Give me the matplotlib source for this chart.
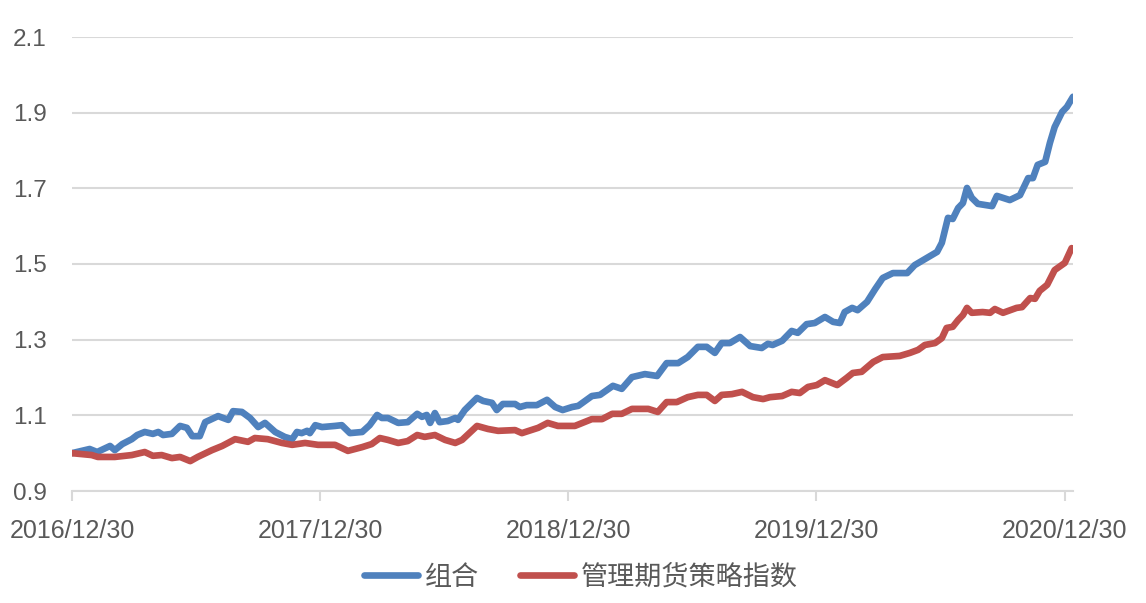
import numpy as np
import pandas as pd
import matplotlib
matplotlib.use("Agg")
import matplotlib.pyplot as plt
import matplotlib.dates as mdates

# 기준일 2016/12/30 부터의 경과일수 / 净值
start = pd.Timestamp("2016-12-30")

# 组合
blue_days = [0, 26, 37, 56, 63, 74, 88, 96, 107, 119, 127, 134, 147, 159, 169, 177, 188,
             196, 215, 230, 237, 250, 262, 274, 284, 299, 313, 324, 331, 338, 346, 350,
             358, 368, 387, 397, 409, 427, 438, 449, 456, 465, 480, 494, 508, 515, 522,
             527, 534, 541, 553, 564, 568, 578, 596, 605, 618, 625, 634, 652, 659, 669,
             684, 699, 711, 722, 736, 745, 765, 777, 796, 809, 824, 843, 861, 875, 892,
             906, 921, 934, 946, 956, 968, 983, 998, 1015, 1024, 1031, 1045, 1059, 1068,
             1081, 1093, 1108, 1120, 1130, 1137, 1148, 1156, 1170, 1182, 1193, 1208,
             1229, 1240, 1258, 1273, 1280, 1289, 1296, 1304, 1311, 1317, 1324, 1333,
             1354, 1361, 1380, 1395, 1407, 1414, 1421, 1432, 1439, 1446, 1457, 1464, 1473]
blue_vals = [1.000, 1.011, 1.003, 1.019, 1.008, 1.024, 1.037, 1.048, 1.056, 1.051, 1.056,
             1.048, 1.051, 1.072, 1.067, 1.045, 1.045, 1.082, 1.098, 1.088, 1.111, 1.109,
             1.093, 1.069, 1.080, 1.056, 1.043, 1.037, 1.056, 1.053, 1.059, 1.053, 1.074,
             1.069, 1.072, 1.074, 1.053, 1.056, 1.074, 1.101, 1.093, 1.093, 1.080, 1.082,
             1.104, 1.096, 1.101, 1.080, 1.106, 1.082, 1.085, 1.093, 1.088, 1.114, 1.146,
             1.138, 1.133, 1.114, 1.130, 1.130, 1.122, 1.127, 1.127, 1.141, 1.122, 1.114,
             1.122, 1.125, 1.151, 1.154, 1.178, 1.170, 1.201, 1.209, 1.204, 1.238, 1.238,
             1.254, 1.281, 1.281, 1.265, 1.291, 1.291, 1.307, 1.283, 1.278, 1.289, 1.286,
             1.297, 1.323, 1.318, 1.341, 1.344, 1.360, 1.347, 1.344, 1.373, 1.384, 1.378,
             1.400, 1.434, 1.463, 1.476, 1.476, 1.497, 1.516, 1.532, 1.556, 1.622, 1.619,
             1.648, 1.661, 1.701, 1.675, 1.659, 1.653, 1.680, 1.669, 1.682, 1.727, 1.727,
             1.762, 1.770, 1.820, 1.862, 1.902, 1.915, 1.942]

# 管理期货策略指数
red_days = [0, 29, 38, 63, 88, 107, 119, 132, 147, 159, 174, 185, 206, 221, 240, 259, 269,
            288, 309, 324, 343, 362, 387, 406, 427, 441, 453, 465, 480, 494, 508, 519, 534,
            549, 564, 574, 596, 612, 627, 652, 662, 686, 700, 715, 740, 765, 780, 795, 809,
            824, 848, 862, 875, 890, 906, 921, 934, 946, 956, 971, 986, 1002, 1017, 1027,
            1045, 1059, 1071, 1083, 1096, 1108, 1126, 1140, 1149, 1162, 1179, 1193, 1218,
            1233, 1245, 1255, 1270, 1280, 1287, 1296, 1304, 1311, 1317, 1324, 1340, 1351,
            1358, 1370, 1390, 1398, 1410, 1417, 1424, 1435, 1446, 1461, 1471]
red_vals = [1.000, 0.995, 0.990, 0.990, 0.995, 1.003, 0.993, 0.995, 0.987, 0.990, 0.979,
            0.990, 1.008, 1.019, 1.037, 1.030, 1.040, 1.037, 1.027, 1.022, 1.027, 1.022,
            1.022, 1.006, 1.016, 1.024, 1.040, 1.035, 1.027, 1.032, 1.048, 1.043, 1.048,
            1.035, 1.027, 1.035, 1.072, 1.064, 1.059, 1.061, 1.053, 1.067, 1.080, 1.072,
            1.072, 1.090, 1.090, 1.104, 1.104, 1.117, 1.117, 1.109, 1.135, 1.135, 1.148,
            1.154, 1.154, 1.138, 1.154, 1.156, 1.162, 1.148, 1.143, 1.148, 1.151, 1.162,
            1.159, 1.175, 1.180, 1.193, 1.180, 1.199, 1.212, 1.215, 1.241, 1.254, 1.257,
            1.265, 1.273, 1.286, 1.291, 1.304, 1.331, 1.334, 1.352, 1.365, 1.384, 1.371,
            1.373, 1.371, 1.381, 1.371, 1.384, 1.386, 1.410, 1.408, 1.429, 1.445, 1.484,
            1.503, 1.542]

tick_dates = ["2016-12-30", "2017-12-30", "2018-12-30", "2019-12-30", "2020-12-30"]
tick_labels = ["2016/12/30", "2017/12/30", "2018/12/30", "2019/12/30", "2020/12/30"]
y_ticks = [0.9, 1.1, 1.3, 1.5, 1.7, 1.9, 2.1]
names = ["组合", "管理期货策略指数"]

blue_x = start + pd.to_timedelta(blue_days, unit="D")
red_x = start + pd.to_timedelta(red_days, unit="D")

plt.rcParams['font.family'] = ['Liberation Sans', 'Noto Sans CJK SC', 'DejaVu Sans']
txt = '#595959'
grid_c = '#D9D9D9'

fig = plt.figure(figsize=(11.46, 6.03), dpi=100)
ax = fig.add_axes([72/1146, 1-491/603, 1001/1146, 454/603])

ax.plot(blue_x, blue_vals, color='#4F81BD', lw=4.8, solid_capstyle='round',
        solid_joinstyle='round', label=names[0], zorder=3)
ax.plot(red_x, red_vals, color='#C0504D', lw=4.8, solid_capstyle='round',
        solid_joinstyle='round', label=names[1], zorder=3)

ax.set_ylim(0.9, 2.1)
ax.set_yticks(y_ticks)
ax.set_yticklabels([f"{v:.1f}" for v in y_ticks])
ax.set_xlim(start, start + pd.Timedelta(days=1473))
ax.set_xticks(pd.to_datetime(tick_dates))
ax.set_xticklabels(tick_labels)

ax.grid(axis='y', color=grid_c, lw=1.5, zorder=0)
for s in ['top', 'right', 'left']:
    ax.spines[s].set_visible(False)
ax.spines['bottom'].set_color(grid_c)
ax.spines['bottom'].set_linewidth(1.5)
ax.tick_params(axis='y', length=0, pad=18, labelsize=17.5, labelcolor=txt)
ax.tick_params(axis='x', length=7, width=1.5, color=grid_c, pad=13,
               labelsize=18, labelcolor=txt)

leg = fig.legend(loc='center', bbox_to_anchor=(0.507, 0.043), ncol=2, frameon=False,
                 prop={'family': ['Noto Sans CJK SC', 'DejaVu Sans'], 'size': 19.5},
                 handlelength=2.0, handletextpad=0.25, columnspacing=1.5,
                 labelcolor=txt)

fig.savefig('out.png', dpi=100)
